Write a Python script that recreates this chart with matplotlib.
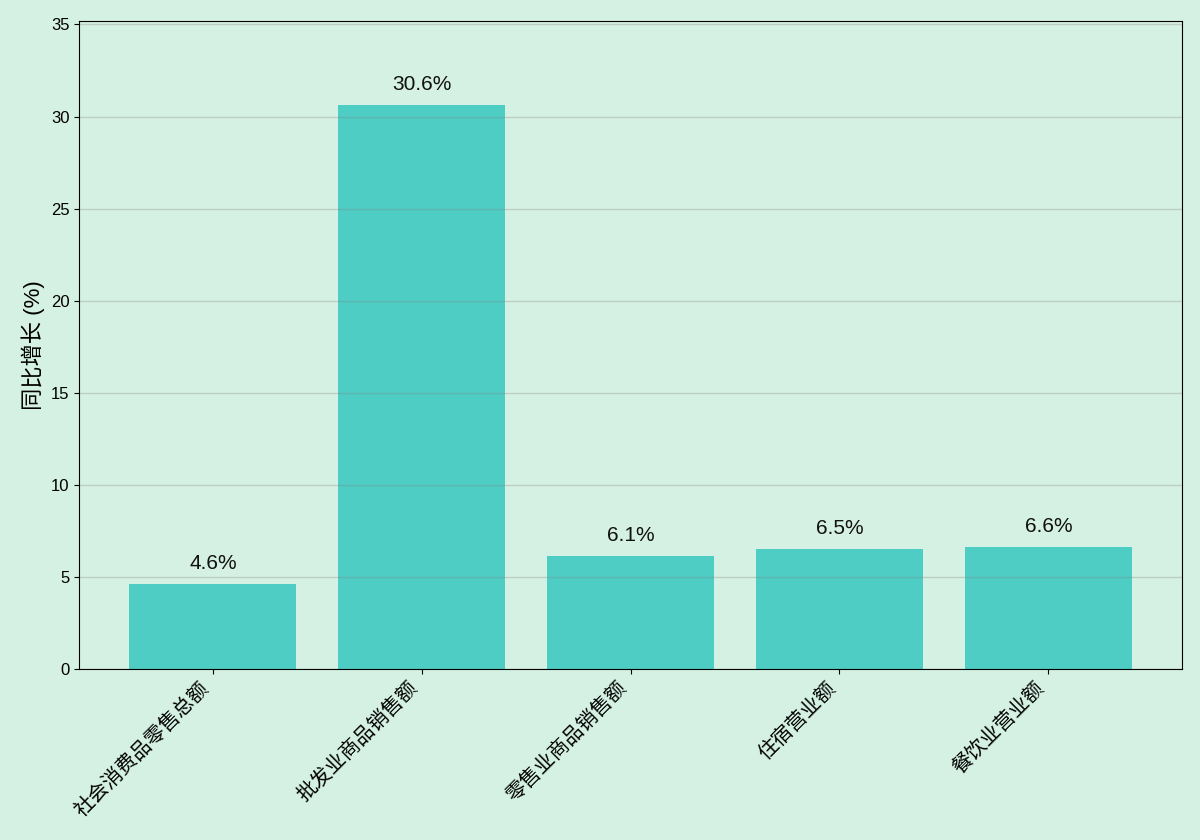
import matplotlib
matplotlib.use("Agg")
import matplotlib.pyplot as plt

plt.rcParams['font.family'] = ['Liberation Sans', 'Noto Sans CJK SC', 'DejaVu Sans']

categories = ["社会消费品零售总额", "批发业商品销售额", "零售业商品销售额", "住宿营业额", "餐饮业营业额"]
growth = [4.6, 30.6, 6.1, 6.5, 6.6]

BG = "#d5f1e3"
BAR = "#4ecdc4"

fig, ax = plt.subplots(figsize=(12, 8.4), dpi=100)
fig.patch.set_facecolor(BG)
ax.set_facecolor(BG)

bars = ax.bar(range(len(categories)), growth, width=0.8, color=BAR)
for rect, v in zip(bars, growth):
    ax.text(rect.get_x() + rect.get_width() / 2, v + 0.6, f"{v}%",
            ha="center", va="bottom", fontsize=15, color="#111111")

ax.set_ylim(0, max(growth) * 1.15)
ax.set_xticks(range(len(categories)))
ax.set_xticklabels(categories, rotation=45, ha="right", fontsize=14.5)
ax.tick_params(axis="y", labelsize=12)
ax.set_ylabel("同比增长 (%)", fontsize=16)
# grid stays at default zorder, so it shows across the bars
ax.yaxis.grid(True, color="gray", alpha=0.3, linewidth=1)

fig.subplots_adjust(left=0.066, right=0.985, top=0.975, bottom=0.204)
fig.savefig("out.png", dpi=100, facecolor=BG)
